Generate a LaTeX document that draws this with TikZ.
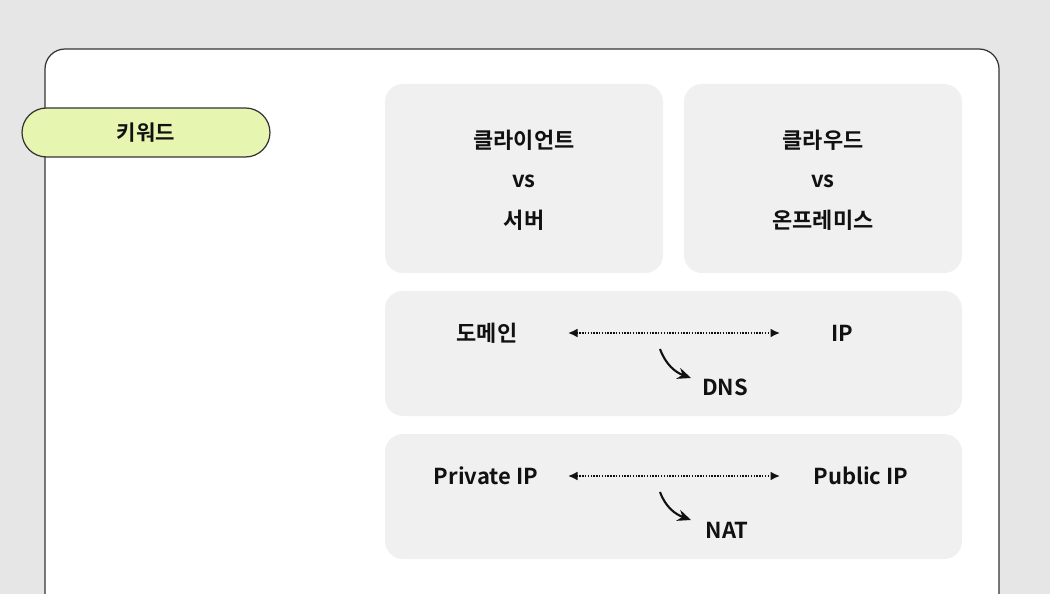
\documentclass[tikz,border=0pt]{standalone}
\usepackage{fontspec}
\setmainfont{Noto Sans}
\newfontfamily\kr{Noto Sans CJK KR}[BoldFont={Noto Sans CJK KR Bold}]
\usepackage{tikz}
\usetikzlibrary{arrows.meta}
\definecolor{pagegray}{HTML}{E6E6E6}
\definecolor{cardgray}{HTML}{F0F0F0}
\definecolor{tagcolor}{HTML}{E6F5B0}
\definecolor{edgecolor}{HTML}{333333}
\definecolor{inkcolor}{HTML}{111111}

\begin{document}
\begin{tikzpicture}[
        x=0.02cm, y=-0.02cm,
        card/.style={fill=cardgray, rounded corners=0.36cm},
        term/.style={font=\kr\bfseries\fontsize{12.5}{15}\selectfont, text=inkcolor, inner sep=0pt},
        tag/.style={draw=edgecolor, line width=0.7pt, fill=tagcolor, rounded corners=0.49cm,
            minimum width=4.96cm, minimum height=0.98cm, font=\kr\bfseries\fontsize{12}{14}\selectfont, text=inkcolor},
        link/.style={draw=inkcolor, line width=1.3pt, dash pattern=on 0.8pt off 0.8pt,
            {Latex[length=1.9mm,width=1.8mm]}-{Latex[length=1.9mm,width=1.8mm]}},
        turn/.style={draw=inkcolor, line width=1.2pt, -{Stealth[length=2.7mm,width=2.3mm]}}
    ]
        \useasboundingbox (0,0) rectangle (1050,594);
        \clip (0,0) rectangle (1050,594);
        \fill[pagegray] (0,0) rectangle (1050,594);

        % outer panel
        \draw[edgecolor, line width=0.7pt, fill=white, rounded corners=0.4cm] (45,640) -- (45,49) -- (999,49) -- (999,640);

        \node[tag] (keyword) at (146,132.5) {키워드};

        % cards
        \fill[card] (385,84) rectangle (663,273);
        \fill[card] (684,84) rectangle (962,273);
        \fill[card] (385,291) rectangle (962,416);
        \fill[card] (385,434) rectangle (962,559);

        \foreach \n/\x/\a/\b in {client/524/클라이언트/서버, cloud/823/클라우드/온프레미스}{
            \node[term] (\n top) at (\x,140) {\a};
            \node[term] (\n vs) at (\x,181) {vs};
            \node[term] (\n bottom) at (\x,220) {\b};
        }

        \node[term] (domain) at (487,333) {도메인};
        \node[term] (ip) at (842,333) {IP};
        \node[term] (dns) at (725,387) {DNS};

        \node[term] (private) at (486,476) {Private IP};
        \node[term] (public) at (861,476) {Public IP};
        \node[term] (nat) at (727,530) {NAT};

        \coordinate (domainend) at (568,333);
        \coordinate (ipend) at (780,333);
        \coordinate (privateend) at (568,476);
        \coordinate (publicend) at (780,476);
        \coordinate (dnsstart) at (660,349);
        \coordinate (dnstip) at (691,378);
        \coordinate (natstart) at (660,492);
        \coordinate (nattip) at (691,520);

        \draw[link] (domainend) -- (ipend);
        \draw[link] (privateend) -- (publicend);
        \draw[turn] (dnsstart) to[out=-70, in=160] (dnstip);
        \draw[turn] (natstart) to[out=-70, in=160] (nattip);
    \end{tikzpicture}
\end{document}
